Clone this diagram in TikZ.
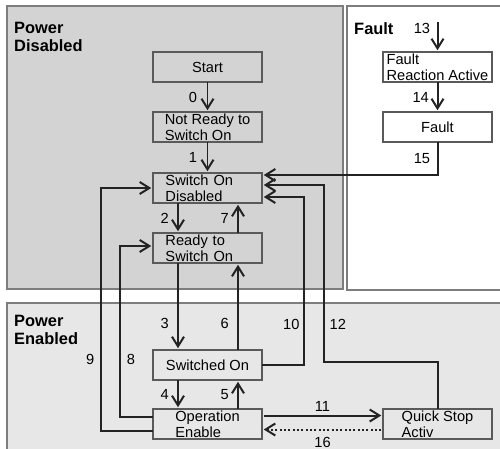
\documentclass[tikz,border=0pt]{standalone}
\usepackage{fontspec}
\setmainfont{Liberation Sans}
\usepackage{tikz}
\usetikzlibrary{
  arrows.meta,
  positioning, calc
}
\definecolor{disgray}{RGB}{211,211,212}
\definecolor{engray}{RGB}{231,231,232}
\definecolor{framegray}{RGB}{125,125,125}
\definecolor{boxline}{RGB}{90,90,90}
\definecolor{cDark}{RGB}{35,35,35}
\newcommand{\statefont}{\fontsize{12.5}{13.5}\selectfont}
\newcommand{\titlefont}{\fontsize{14}{15.5}\selectfont\bfseries}
\tikzset{
  statebox/.style={rectangle,draw=boxline,line width=0.9pt,minimum width=3.27cm,minimum height=0.9cm,inner xsep=2pt,inner ysep=0pt,outer sep=0pt,align=left,font=\statefont},
  regionbox/.style={draw=framegray,line width=1.1pt},
  titlenode/.style={anchor=north west,inner sep=0pt,align=left,font=\titlefont},
  numlbl/.style={font=\statefont,inner sep=2pt},
  arr/.style={-{Straight Barb[length=2.9mm,width=3.6mm]},line width=1.7pt,draw=cDark,shorten >=1.5pt},
  dotarr/.style={arr,dotted}
}

\begin{document}
\begin{tikzpicture}[x=0.03cm,y=-0.03cm]
  \useasboundingbox (0,0) rectangle (500,449);

  %% Regions
  \draw[regionbox,fill=disgray] (7,6) rectangle (343,289);
  \draw[regionbox,fill=white] (347,6) rectangle (510,290);
  \draw[regionbox,fill=engray] (7,303) rectangle (510,460);
  \node[titlenode] (tdis) at (14,22) {Power\\Disabled};
  \node[titlenode] (tfault) at (354,22) {Fault};
  \node[titlenode] (tena) at (14,315) {Power\\Enabled};

  %% States
  \node[statebox,align=center] (start) at (207.5,67) {Start};
  \node[statebox,below=0.9cm of start] (notready) {Not Ready to\\Switch On};
  \node[statebox,below=0.93cm of notready,text width=2.52cm] (swondis) {Switch On\\Disabled};
  \node[statebox,below=0.9cm of swondis,text width=2.52cm] (ready) {Ready to\\Switch On};
  \node[statebox,below=2.61cm of ready,align=center] (swon) {Switched On};
  \node[statebox,below=0.87cm of swon] (openable) {Operation\\Enable};
  \node[statebox,right=3.63cm of openable] (qstop) {Quick Stop\\Activ};
  \node[statebox] (fra) at (437.5,67) {Fault\\Reaction Active};
  \node[statebox,below=0.9cm of fra,align=center] (fault) {Fault};

  %% Columns and entry point
  \coordinate (lcol) at (178,0);
  \coordinate (rcol) at (238,0);
  \coordinate (in13) at (437.5,22);

  %% Transitions
  \draw[arr] (start) -- node[numlbl,left=6pt] {0} (notready);
  \draw[arr] (notready) -- node[numlbl,left=6pt] {1} (swondis);
  \draw[arr] (swondis.south -| lcol) -- node[numlbl,left=5pt] {2} (ready.north -| lcol);
  \draw[arr] (ready.north -| rcol) -- node[numlbl,left=5pt] {7} (swondis.south -| rcol);
  \draw[arr] (ready.south -| lcol) -- node[numlbl,left=5pt,pos=0.7] {3} (swon.north -| lcol);
  \draw[arr] (swon.north -| rcol) -- node[numlbl,left=5pt,pos=0.3] {6} (ready.south -| rcol);
  \draw[arr] (swon.south -| lcol) -- node[numlbl,left=5pt] {4} (openable.north -| lcol);
  \draw[arr] (openable.north -| rcol) -- node[numlbl,left=5pt] {5} (swon.south -| rcol);
  \draw[arr] ([yshift=0.225cm]openable.west) -- ++(-33,0) |- node[numlbl,right=3pt,pos=0.167] {8} ([yshift=0.06cm]ready.west);
  \draw[arr] ([yshift=-0.195cm]openable.west) -- ++(-52,0) |- node[numlbl,left=3pt,pos=0.146] {9} (swondis.west);
  \draw[arr] (swon.east) -- ++(42,0) |- node[numlbl,left=1pt,pos=0.122] {10} ([yshift=-0.27cm]swondis.east);
  \draw[arr] (qstop.north) |- ++(-113.5,-47) |- node[numlbl,right=2pt,pos=0.107] {12} ([yshift=0.09cm]swondis.east);
  \draw[arr,shorten <=1.5pt] ([yshift=0.255cm]openable.east) -- node[numlbl,above=1pt] {11} ([yshift=0.255cm]qstop.west);
  \draw[dotarr,shorten <=1.5pt] ([yshift=-0.165cm]qstop.west) -- node[numlbl,below=3.5pt] {16} ([yshift=-0.165cm]openable.east);
  \draw[arr] (in13) -- node[numlbl,left=3.5pt,pos=0.2] {13} (fra);
  \draw[arr] (fra) -- node[numlbl,left=4.5pt] {14} (fault);
  \draw[arr] (fault) |- node[numlbl,left=3.5pt,pos=0.25] {15} ([yshift=0.39cm]swondis.east);
\end{tikzpicture}
\end{document}
